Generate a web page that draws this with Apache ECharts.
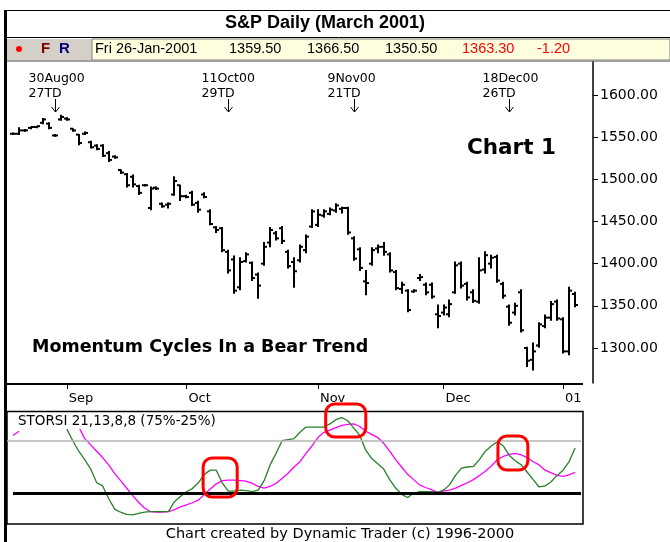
<!DOCTYPE html>
<html>
<head>
<meta charset="utf-8">
<script src="https://cdn.jsdelivr.net/npm/echarts@6/dist/echarts.min.js"></script>
<style>
html, body { margin: 0; padding: 0; background: #fff; }
#main { width: 670px; height: 542px; }
</style>
</head>
<body>
<div id="main"></div>
<script>
// trading days shown on the chart (March 2001 S&P contract)
const days = [
  '18Aug00','21Aug00','22Aug00','23Aug00','24Aug00','25Aug00','28Aug00','29Aug00','30Aug00','31Aug00',
  '01Sep00','05Sep00','06Sep00','07Sep00','08Sep00','11Sep00','12Sep00','13Sep00','14Sep00','15Sep00',
  '18Sep00','19Sep00','20Sep00','21Sep00','22Sep00','25Sep00','26Sep00','27Sep00','28Sep00','29Sep00',
  '02Oct00','03Oct00','04Oct00','05Oct00','06Oct00','09Oct00','10Oct00','11Oct00','12Oct00','13Oct00',
  '16Oct00','17Oct00','18Oct00','19Oct00','20Oct00','23Oct00','24Oct00','25Oct00','26Oct00','27Oct00',
  '30Oct00','31Oct00',
  '01Nov00','02Nov00','03Nov00','06Nov00','07Nov00','08Nov00','09Nov00','10Nov00','13Nov00','14Nov00',
  '15Nov00','16Nov00','17Nov00','20Nov00','21Nov00','22Nov00','24Nov00','27Nov00','28Nov00','29Nov00',
  '30Nov00',
  '01Dec00','04Dec00','05Dec00','06Dec00','07Dec00','08Dec00','11Dec00','12Dec00','13Dec00','14Dec00',
  '15Dec00','18Dec00','19Dec00','20Dec00','21Dec00','22Dec00','26Dec00','27Dec00','28Dec00','29Dec00',
  '02Jan01','03Jan01','04Jan01','05Jan01','08Jan01','09Jan01'
];
const monthStart = ['01Sep00', '02Oct00', '01Nov00', '01Dec00', '02Jan01'];
const monthText = ['Sep', 'Oct', 'Nov', 'Dec', '01'];

const open = [null,
  1554,1554,1558,1561,1562,1567,1566,1552,1571,1572,1560,1553,1554,1544,1540,1540,1531,1527,1511,
  1506,1503,1492,1493,1466,1490,1471,1470,1482,1493,1480,1484,1472,1482,1462,1443,1442,1414,1405,1372,
  1403,1401,1387,1400,1425,1436,1442,1414,1402,1404,1416,1444,1446,1457,1459,1463,1465,1466,1430,1417,
  1379,1400,1418,1420,1411,1390,1370,1368,1367,1383,1375,1375,1340,1342,1340,1366,1400,1376,1366,1355,
  1393,1400,1408,1376,1349,1342,1366,1300,1286,1303,1326,1336,1355,1334,1296,1364];
const high = [null,
  1555,1561,1559,1562,1563,1572,1567,1553,1576,1573,1560,1553,1556,1545,1541,1541,1533,1528,1511,
  1507,1505,1493,1494,1491,1491,1472,1472,1503,1493,1481,1486,1474,1484,1464,1444,1443,1416,1409,1407,
  1413,1402,1389,1425,1443,1438,1444,1416,1407,1422,1434,1464,1464,1464,1466,1471,1467,1467,1432,1419,
  1392,1419,1422,1425,1413,1392,1378,1369,1369,1387,1377,1377,1351,1351,1357,1402,1402,1378,1369,1407,
  1414,1410,1410,1378,1351,1353,1369,1301,1306,1330,1339,1355,1357,1336,1372,1366];
const low = [null,
  1553,1553,1557,1560,1561,1566,1560,1551,1570,1570,1557,1541,1553,1537,1535,1527,1521,1525,1507,
  1491,1491,1482,1492,1464,1488,1467,1466,1481,1475,1478,1469,1461,1478,1446,1437,1414,1389,1365,1369,
  1402,1380,1359,1398,1420,1428,1424,1395,1372,1402,1413,1443,1444,1455,1458,1461,1460,1435,1404,1392,
  1363,1398,1413,1410,1390,1369,1365,1343,1366,1380,1363,1359,1324,1339,1337,1365,1371,1357,1354,1353,
  1389,1395,1378,1359,1327,1339,1319,1278,1274,1301,1324,1333,1333,1294,1292,1349];
const close = [null,
  1554,1558,1558,1562,1563,1571,1561,1552,1574,1571,1558,1543,1555,1538,1536,1528,1523,1526,1508,
  1493,1494,1484,1493,1489,1489,1468,1471,1498,1480,1479,1470,1464,1479,1447,1440,1416,1392,1368,1402,
  1411,1383,1374,1420,1440,1430,1427,1397,1391,1420,1432,1462,1458,1462,1464,1469,1466,1437,1406,1395,
  1377,1416,1420,1414,1392,1371,1375,1345,1368,1384,1366,1361,1338,1348,1352,1398,1374,1360,1356,1392,
  1410,1407,1380,1362,1330,1350,1321,1285,1296,1328,1336,1352,1335,1296,1368,1351];

// STORSI 21,13,8,8 - green (fast) and magenta (slow) lines, in percent
const storsiFast = [null,null,null,null,null,null,null,null,null,null,
  86,75,65,57,48,35,32,20,10,7,
  5,4.5,6,7,7.5,7.5,7.5,7.5,17,22,
  26.5,29.5,35,43,47,47,35,27,27,28,
  27.5,26.5,28,37,52,63,75,76,77,83,
  88,88,88,88,91,95,97,94,87,80,
  66,58,53,48,38,30,24,21,25,26.5,
  26.5,26.5,26,28,33,42,49,50,50.5,57,
  65,70,74,70,61,56,52,45,38,31,
  32,36,42,47,55,68];
const storsiSlow = [null,80,84,null,null,null,null,null,null,null,
  null,null,88,77,71,65,59,52,44,37,
  30,23,16.5,11,7.5,7,7,7.5,9.5,12,
  14,16,18.5,24,29,34,37,37.5,37.5,37,
  36.5,34.5,31.5,30,31.5,34.5,39,44,50,55,
  63,70,78,83,85,87.5,89.5,90.5,91,88.5,
  84,81,78,72.5,65,57,50,43,38,33,
  30.5,28.5,26,27,28,30,32.5,35,38,42,
  46,51,57,60,62,63,61.5,59,55,52,
  47,44.5,42,41,42.5,45];

const priceTicks = [1300, 1350, 1400, 1450, 1500, 1550, 1600];
const quote = ['Fri 26-Jan-2001', '1359.50', '1366.50', '1350.50', '1363.30', '-1.20'];
const quoteX = [95, 229, 307, 385, 462, 537];

const cycleDays = ['30Aug00', '11Oct00', '09Nov00', '18Dec00'];
const cycleText = ['30Aug00', '11Oct00', '9Nov00', '18Dec00'];
const cycleTD = ['27TD', '29TD', '21TD', '26TD'];

// red hand drawn boxes on the indicator: [from bar, to bar, low %, high %]
const circles = [[32.8, 38.5, 21.5, 58.6], [53.3, 60.0, 78.5, 109.9], [82.1, 87.1, 47.1, 79.5]];

const FONT = 'DejaVu Sans';
const isMonthStart = function (i, v) { return monthStart.indexOf(v) >= 0; };

const ohlc = [];
for (let i = 0; i < open.length; i++) {
  if (open[i] == null) continue;
  ohlc.push([i, open[i], high[i], low[i], close[i]]);
}

function renderBar(params, api) {
  const i = api.value(0);
  const x = Math.round(api.coord([i, api.value(2)])[0]);
  const yo = api.coord([i, api.value(1)])[1];
  const yh = api.coord([i, api.value(2)])[1];
  const yl = api.coord([i, api.value(3)])[1];
  const yc = api.coord([i, api.value(4)])[1];
  const st = { stroke: '#000', lineWidth: 2 };
  return {
    type: 'group',
    children: [
      { type: 'line', shape: { x1: x, y1: yh - 0.5, x2: x, y2: Math.max(yl, yh + 1) + 0.5 }, style: st },
      { type: 'line', shape: { x1: x - 3, y1: yo, x2: x, y2: yo }, style: st },
      { type: 'line', shape: { x1: x, y1: yc, x2: x + 3, y2: yc }, style: st }
    ]
  };
}

const chart = echarts.init(document.getElementById('main'));
chart.setOption({
  animation: false,
  backgroundColor: '#fff',
  textStyle: { fontFamily: FONT },
  grid: [
    { left: 7, right: 77, top: 62, height: 321 },
    { left: 7, right: 77, top: 412, height: 112 }
  ],
  xAxis: [
    {
      type: 'category', gridIndex: 0, data: days, boundaryGap: false,
      axisLine: { show: false },
      axisTick: { show: true, interval: isMonthStart, length: 6, lineStyle: { color: '#000', width: 1 } },
      axisLabel: {
        interval: isMonthStart,
        formatter: function (v) { return monthText[monthStart.indexOf(v)]; },
        align: 'left', padding: [0, 0, 0, 2], margin: 9,
        color: '#000', fontSize: 13, fontFamily: FONT
      },
      splitLine: { show: false }
    },
    { type: 'category', gridIndex: 1, data: days, boundaryGap: false, show: false }
  ],
  yAxis: [
    {
      type: 'value', gridIndex: 0, position: 'right', min: 1258.5, max: 1639.1,
      axisLine: { show: true, lineStyle: { color: '#000', width: 1.5 } },
      axisTick: { show: true, customValues: priceTicks, length: 5, lineStyle: { color: '#000' } },
      axisLabel: {
        customValues: priceTicks, margin: 7,
        formatter: function (v) { return v.toFixed(2); },
        color: '#000', fontSize: 14, fontFamily: FONT
      },
      splitLine: { show: false }
    },
    { type: 'value', gridIndex: 1, min: -4.2, max: 102.3, show: false, splitLine: { show: false } }
  ],
  series: [
    {
      type: 'custom', xAxisIndex: 0, yAxisIndex: 0,
      renderItem: renderBar, data: ohlc,
      encode: { x: 0, y: [1, 2, 3, 4] }
    },
    {
      type: 'line', xAxisIndex: 1, yAxisIndex: 1, data: storsiSlow,
      symbol: 'none', lineStyle: { color: '#ff00ff', width: 1.3 }, z: 3,
      markLine: {
        silent: true, symbol: ['none', 'none'], label: { show: false },
        data: [
          [{ coord: ['18Aug00', 75], lineStyle: { color: '#b4b4b4', width: 1.5, type: 'solid' } },
           { coord: ['05Jan01', 75] }],
          [{ coord: ['21Aug00', 25], lineStyle: { color: '#000', width: 3, type: 'solid' } },
           { coord: ['05Jan01', 25] }]
        ]
      }
    },
    {
      type: 'line', xAxisIndex: 1, yAxisIndex: 1, data: storsiFast,
      symbol: 'none', lineStyle: { color: '#2a7f2a', width: 1.3 }, z: 4
    }
  ]
});

// frame, header, captions and annotations
const els = [
  { type: 'line', shape: { x1: 4, y1: 10.5, x2: 670, y2: 10.5 }, style: { stroke: '#000', lineWidth: 1 } },
  { type: 'rect', shape: { x: 4, y: 10, width: 3, height: 532 }, style: { fill: '#000' } },
  { type: 'text', style: { text: 'S&P Daily (March 2001)', x: 325, y: 23, align: 'center', verticalAlign: 'middle',
      font: 'bold 18px "Liberation Sans"', fill: '#000' } },
  { type: 'line', shape: { x1: 7, y1: 37.5, x2: 670, y2: 37.5 }, style: { stroke: '#000', lineWidth: 1 } },
  { type: 'rect', shape: { x: 7, y: 39, width: 85, height: 21 }, style: { fill: '#d4d0c8' } },
  { type: 'rect', shape: { x: 92, y: 39, width: 578, height: 21 }, style: { fill: '#ffffe0', stroke: '#808080', lineWidth: 1 } },
  { type: 'circle', shape: { cx: 19, cy: 49, r: 3 }, style: { fill: '#ff0000' } },
  { type: 'text', style: { text: 'F', x: 41, y: 49, verticalAlign: 'middle', font: 'bold 15px "Liberation Sans"', fill: '#800000' } },
  { type: 'text', style: { text: 'R', x: 59, y: 49, verticalAlign: 'middle', font: 'bold 15px "Liberation Sans"', fill: '#000080' } },
  { type: 'line', shape: { x1: 7, y1: 61, x2: 670, y2: 61 }, style: { stroke: '#a0a0a0', lineWidth: 2 } },
  { type: 'text', style: { text: 'Chart 1', x: 467, y: 148, verticalAlign: 'middle', font: 'bold 21.5px "DejaVu Sans"', fill: '#000' } },
  { type: 'text', style: { text: 'Momentum Cycles In a Bear Trend', x: 32, y: 347, verticalAlign: 'middle',
      font: 'bold 17.5px "DejaVu Sans"', fill: '#000' } },
  { type: 'line', shape: { x1: 7, y1: 384, x2: 583, y2: 384 }, style: { stroke: '#000', lineWidth: 2 } },
  { type: 'rect', shape: { x: 7, y: 411.5, width: 576, height: 112.5 }, style: { fill: 'none', stroke: '#000', lineWidth: 1.5 } },
  { type: 'text', z: 50, style: { text: 'STORSI 21,13,8,8 (75%-25%)', x: 17, y: 421, verticalAlign: 'middle',
      font: '13.5px "DejaVu Sans"', fill: '#000', backgroundColor: '#fff', padding: [1, 2, 1, 1] } },
  { type: 'text', style: { text: 'Chart created by Dynamic Trader (c) 1996-2000', x: 340, y: 534, align: 'center',
      verticalAlign: 'middle', font: '14.5px "DejaVu Sans"', fill: '#000' } }
];
quote.forEach(function (q, k) {
  els.push({ type: 'text', style: { text: q, x: quoteX[k], y: 49, verticalAlign: 'middle',
    font: '14.5px "Liberation Sans"', fill: k >= 4 ? '#ff0000' : '#000' } });
});
cycleDays.forEach(function (d, k) {
  const x = Math.round(chart.convertToPixel({ xAxisIndex: 0 }, d)) + 0.5;
  els.push({ type: 'text', style: { text: cycleText[k] + '\n' + cycleTD[k], x: x - 27, y: 71,
    font: '12.5px "DejaVu Sans"', lineHeight: 15, fill: '#000' } });
  els.push({ type: 'line', shape: { x1: x, y1: 99, x2: x, y2: 112 }, style: { stroke: '#000', lineWidth: 1 } });
  els.push({ type: 'polyline', shape: { points: [[x - 4, 107], [x, 112], [x + 4, 107]] }, style: { stroke: '#000', fill: 'none', lineWidth: 1 } });
});
const x0 = chart.convertToPixel({ xAxisIndex: 1 }, 0);
const step = chart.convertToPixel({ xAxisIndex: 1 }, 1) - x0;
circles.forEach(function (c) {
  const xa = x0 + c[0] * step, xb = x0 + c[1] * step;
  const ya = chart.convertToPixel({ yAxisIndex: 1 }, c[3]);
  const yb = chart.convertToPixel({ yAxisIndex: 1 }, c[2]);
  els.push({ type: 'rect', z: 60, shape: { x: xa, y: ya, width: xb - xa, height: yb - ya, r: 9 },
    style: { fill: 'none', stroke: '#ff0000', lineWidth: 3 } });
});
chart.setOption({ graphic: { elements: els } });
</script>
</body>
</html>
